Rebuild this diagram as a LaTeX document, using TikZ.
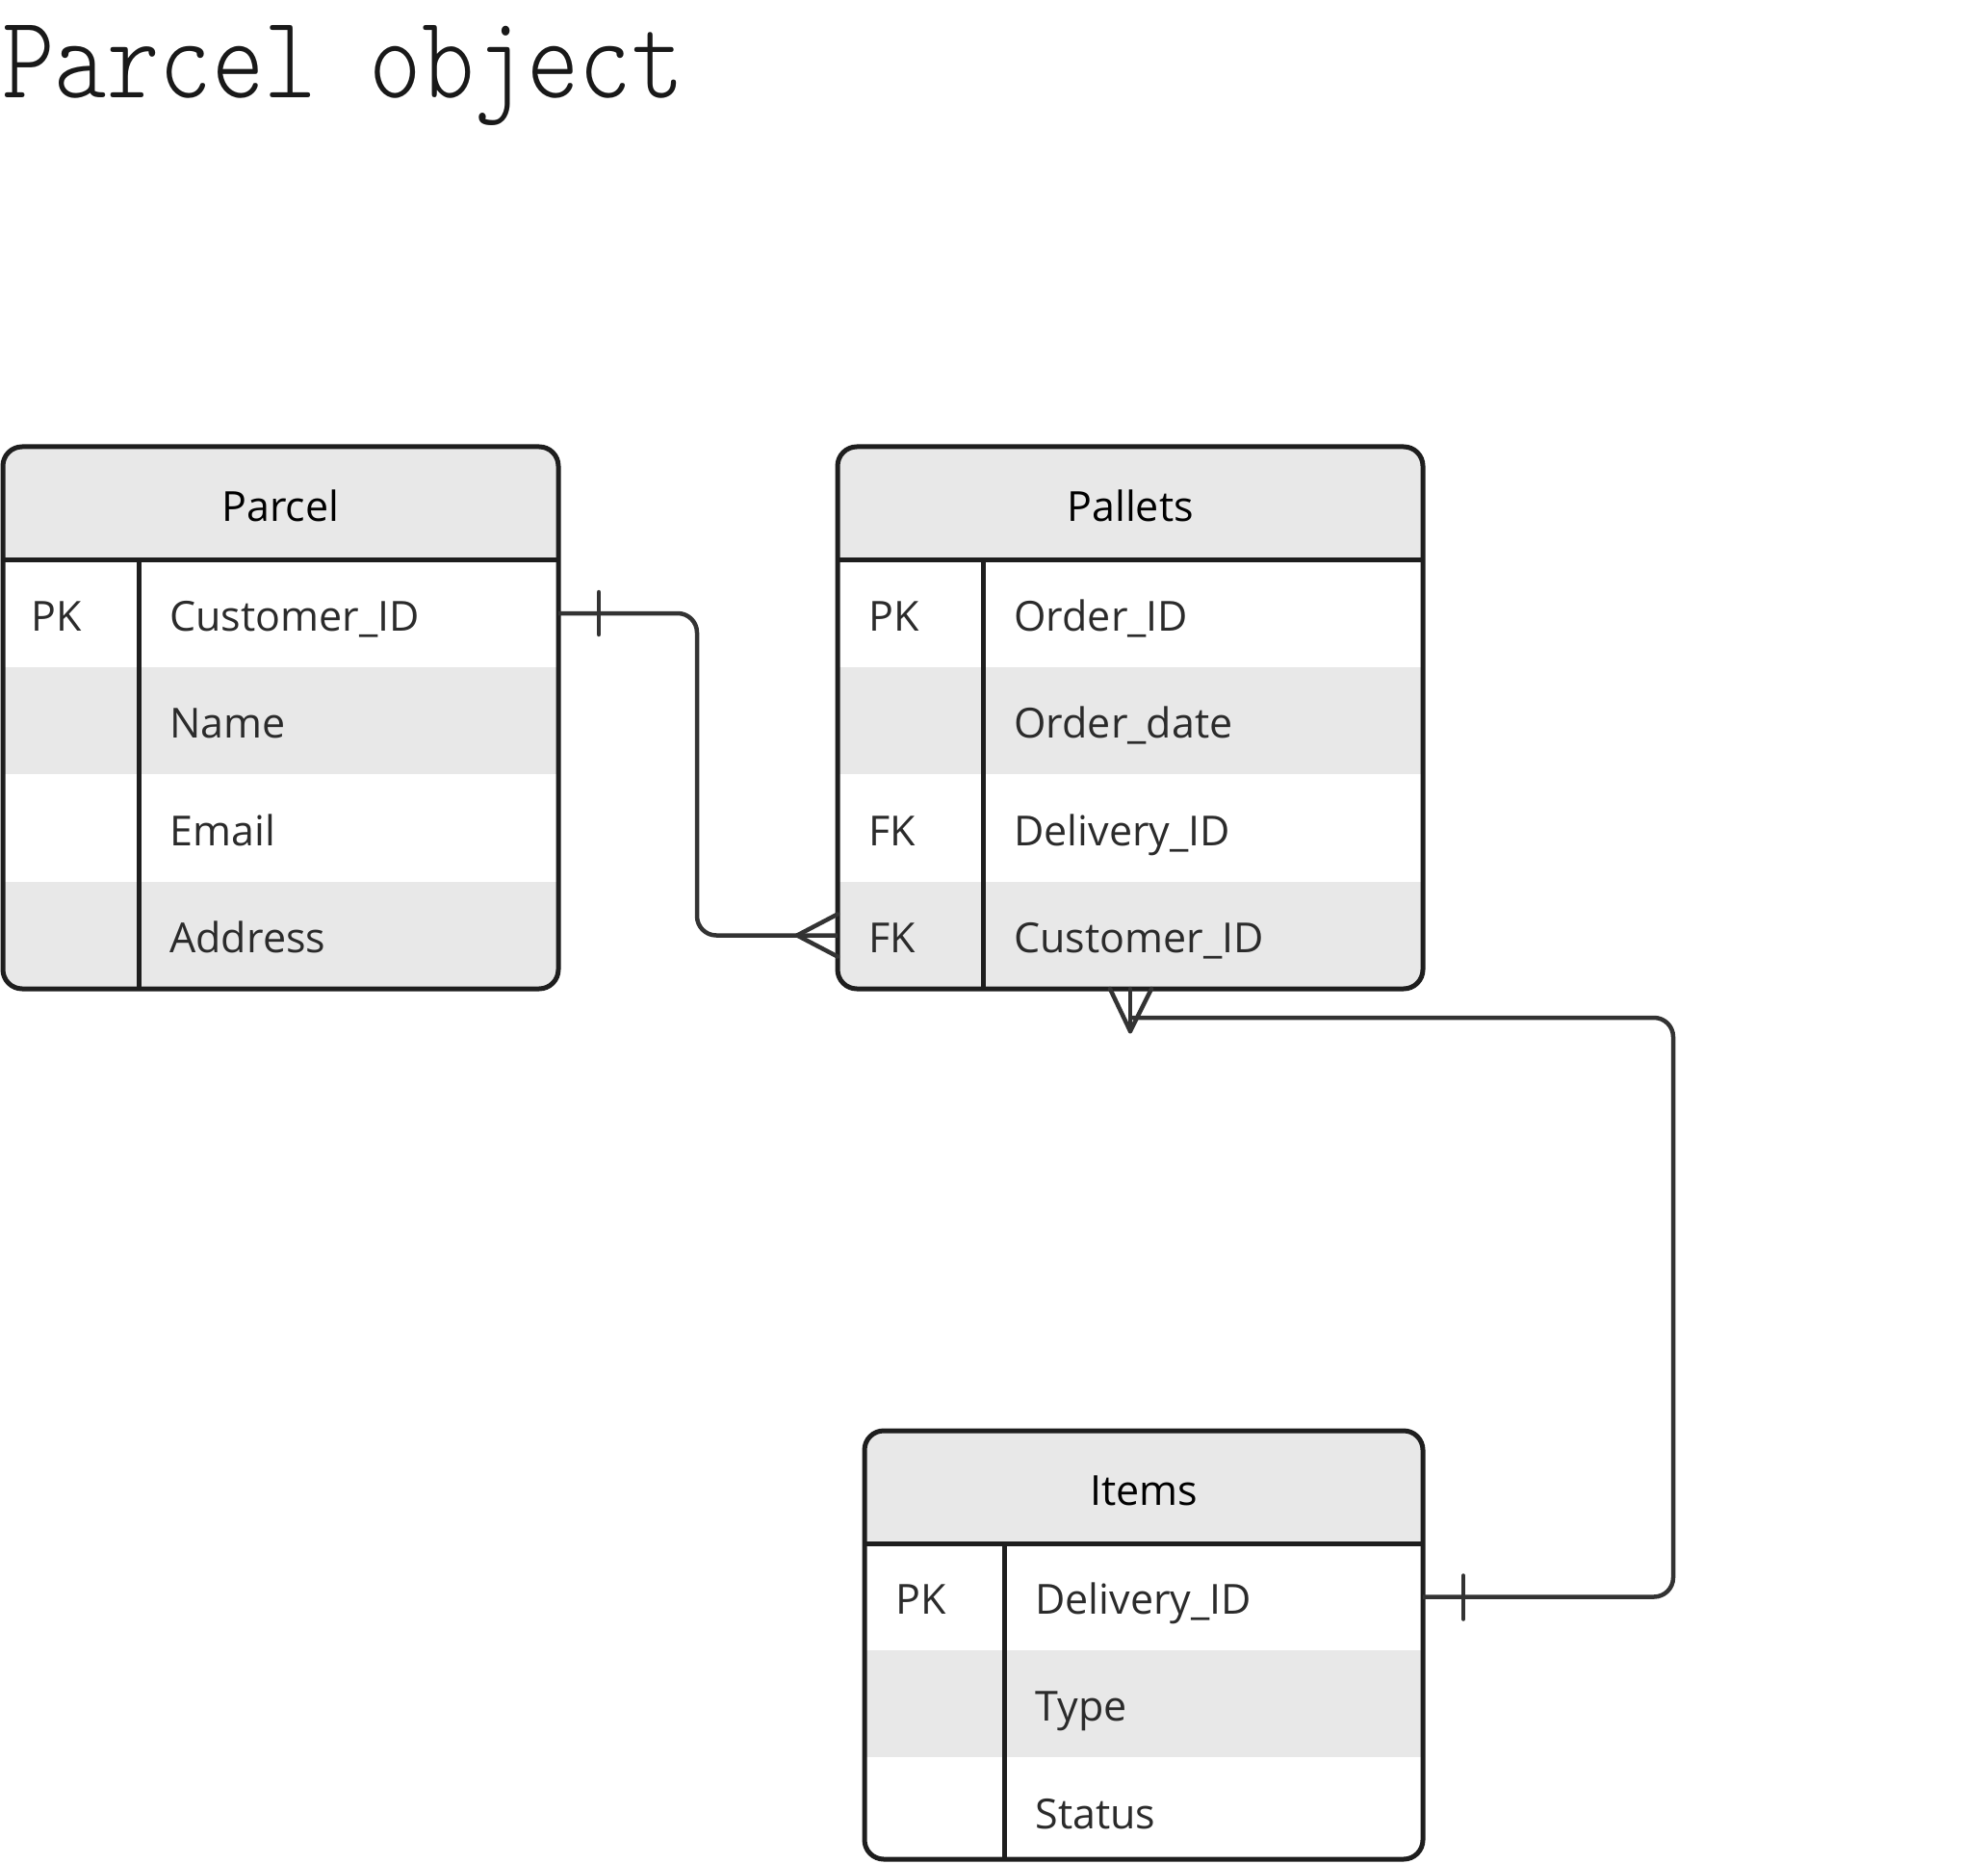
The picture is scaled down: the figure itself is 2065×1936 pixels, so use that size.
\documentclass[tikz,border=0pt]{standalone}
\usepackage{fontspec}
\usetikzlibrary{fit,calc}
\newfontfamily\erbody{Open Sans}
\newcommand{\erfnt}{\erbody\fontsize{21.5pt}{26pt}\selectfont}
\newcommand{\ertfnt}{\ttfamily\fontseries{l}\fontsize{61.4pt}{70pt}\selectfont}
\definecolor{bordc}{HTML}{1E1E1E}
\definecolor{connc}{HTML}{333333}
\definecolor{rowgray}{HTML}{E8E8E8}
\definecolor{txtc}{HTML}{2B2B2B}
\tikzset{
  cell/.style={inner sep=0pt, outer sep=0pt},
  tbl/.style={draw=bordc, line width=2.5pt, rounded corners=10pt},
  sepline/.style={draw=bordc, line width=2.5pt},
  conn/.style={draw=connc, line width=2.25pt, rounded corners=10pt},
  crowline/.style={draw=connc, line width=2.25pt, line cap=round},
  ertxt/.style={anchor=base west, inner sep=0pt, font=\erfnt, text=txtc},
  hdrtxt/.style={anchor=base, inner sep=0pt, font=\erfnt, text=black},
}
\begin{document}
\begin{tikzpicture}[x=0.5pt, y=-0.5pt]
\useasboundingbox (0,0) rectangle (2065,1936);

% title
\node[anchor=base west, inner sep=0pt, text=black!90] (title) at (2,102) {\scalebox{0.845}[1]{\ertfnt Parcel object}};

% ---------- Parcel ----------
\node[cell, fit={(3,464)(580,1027)}] (parcel) {};
\node[cell, fit={(3,464)(580,581)}] (ph) {};
\node[cell, fit={(3,581)(580,693)}] (p1) {};
\node[cell, fit={(3,693)(580,804)}] (p2) {};
\node[cell, fit={(3,804)(580,916)}] (p3) {};
\node[cell, fit={(3,916)(580,1027)}] (p4) {};
\coordinate (pdiv) at (144,0);
\begin{scope}
\clip[rounded corners=10pt] (parcel.north west) rectangle (parcel.south east);
\fill[rowgray] (ph.north west) rectangle (ph.south east);
\fill[rowgray] (p2.north west) rectangle (p2.south east);
\fill[rowgray] (p4.north west) rectangle (p4.south east);
\end{scope}
\draw[sepline] (ph.south west) -- (ph.south east);
\draw[sepline] (p1.north -| pdiv) -- (p4.south -| pdiv);
\draw[tbl] (parcel.north west) rectangle (parcel.south east);
\node[hdrtxt] (phT) at ($(ph.center)+(0,19)$) {Parcel};
\node[ertxt] (pk1) at ($(p1.west)+(29,18)$) {PK};
\node[ertxt] (pf1) at ($(pdiv |- p1.center)+(32,18)$) {Customer\_ID};
\node[ertxt] (pf2) at ($(pdiv |- p2.center)+(32,18)$) {Name};
\node[ertxt] (pf3) at ($(pdiv |- p3.center)+(32,18)$) {Email};
\node[ertxt] (pf4) at ($(pdiv |- p4.center)+(32,18)$) {Address};

% ---------- Pallets ----------
\node[cell, fit={(870,464)(1478,1027)}] (pallets) {};
\node[cell, fit={(870,464)(1478,581)}] (plh) {};
\node[cell, fit={(870,581)(1478,693)}] (pl1) {};
\node[cell, fit={(870,693)(1478,804)}] (pl2) {};
\node[cell, fit={(870,804)(1478,916)}] (pl3) {};
\node[cell, fit={(870,916)(1478,1027)}] (pl4) {};
\coordinate (pldiv) at (1021,0);
\begin{scope}
\clip[rounded corners=10pt] (pallets.north west) rectangle (pallets.south east);
\fill[rowgray] (plh.north west) rectangle (plh.south east);
\fill[rowgray] (pl2.north west) rectangle (pl2.south east);
\fill[rowgray] (pl4.north west) rectangle (pl4.south east);
\end{scope}
\draw[sepline] (plh.south west) -- (plh.south east);
\draw[sepline] (pl1.north -| pldiv) -- (pl4.south -| pldiv);
\draw[tbl] (pallets.north west) rectangle (pallets.south east);
\node[hdrtxt] (plhT) at ($(plh.center)+(0,19)$) {Pallets};
\node[ertxt] (plk1) at ($(pl1.west)+(32,18)$) {PK};
\node[ertxt] (plk3) at ($(pl3.west)+(32,18)$) {FK};
\node[ertxt] (plk4) at ($(pl4.west)+(32,18)$) {FK};
\node[ertxt] (plf1) at ($(pldiv |- pl1.center)+(32,18)$) {Order\_ID};
\node[ertxt] (plf2) at ($(pldiv |- pl2.center)+(32,18)$) {Order\_date};
\node[ertxt] (plf3) at ($(pldiv |- pl3.center)+(32,18)$) {Delivery\_ID};
\node[ertxt] (plf4) at ($(pldiv |- pl4.center)+(32,18)$) {Customer\_ID};

% ---------- Items ----------
\node[cell, fit={(898,1486)(1478,1931)}] (items) {};
\node[cell, fit={(898,1486)(1478,1603)}] (ih) {};
\node[cell, fit={(898,1603)(1478,1714)}] (i1) {};
\node[cell, fit={(898,1714)(1478,1825)}] (i2) {};
\node[cell, fit={(898,1825)(1478,1931)}] (i3) {};
\coordinate (idiv) at (1043,0);
\begin{scope}
\clip[rounded corners=10pt] (items.north west) rectangle (items.south east);
\fill[rowgray] (ih.north west) rectangle (ih.south east);
\fill[rowgray] (i2.north west) rectangle (i2.south east);
\end{scope}
\draw[sepline] (ih.south west) -- (ih.south east);
\draw[sepline] (i1.north -| idiv) -- (i3.south -| idiv);
\draw[tbl] (items.north west) rectangle (items.south east);
\node[hdrtxt] (ihT) at ($(ih.center)+(0,19)$) {Items};
\node[ertxt] (ik1) at ($(i1.west)+(32,18)$) {PK};
\node[ertxt] (if1) at ($(idiv |- i1.center)+(32,18)$) {Delivery\_ID};
\node[ertxt] (if2) at ($(idiv |- i2.center)+(32,18)$) {Type};
\node[ertxt] (if3) at ($(idiv |- i3.center)+(32,21)$) {Status};

% ---------- Connector Parcel -> Pallets ----------
\coordinate (c1x) at (724,0);
\draw[conn] (p1.east) -- (p1.east -| c1x) -- (pl4.west -| c1x) -- (pl4.west);
\draw[crowline] ($(p1.east)+(42,-22)$) -- ($(p1.east)+(42,22)$);
\coordinate (apex1) at ($(pl4.west)+(-42,0)$);
\draw[crowline] (apex1) -- ($(pl4.west)+(0,-22)$);
\draw[crowline] (apex1) -- ($(pl4.west)+(0,22)$);

% ---------- Connector Items -> Pallets ----------
\coordinate (c2t) at (1738,1057);
\draw[conn] (i1.east) -| (c2t) -- (pl4.south |- c2t);
\draw[crowline] ($(i1.east)+(42,-22)$) -- ($(i1.east)+(42,23)$);
\coordinate (apex2) at ($(pl4.south)+(0,44)$);
\draw[crowline] (apex2) -- ($(pl4.south)+(-21,0)$);
\draw[crowline] (apex2) -- (pl4.south);
\draw[crowline] (apex2) -- ($(pl4.south)+(22,0)$);
\end{tikzpicture}
\end{document}
